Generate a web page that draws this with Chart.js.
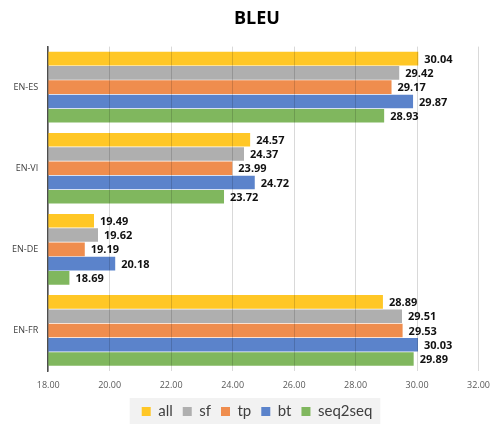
<!DOCTYPE html>
<html>
<head>
<meta charset="utf-8">
<script src="https://cdn.jsdelivr.net/npm/chart.js@4/dist/chart.umd.min.js"></script>
<style>
  html, body { margin: 0; padding: 0; background: #fff; }
  #wrap { width: 490px; height: 424px; }
</style>
</head>
<body>
<div id="wrap"><canvas id="bleuChart"></canvas></div>
<script>
const pairs = ['EN-ES', 'EN-VI', 'EN-DE', 'EN-FR'];
const allScores = [30.04, 24.57, 19.49, 28.89];
const sfScores = [29.42, 24.37, 19.62, 29.51];
const tpScores = [29.17, 23.99, 19.19, 29.53];
const btScores = [29.87, 24.72, 20.18, 30.03];
const seq2seqScores = [28.93, 23.72, 18.69, 29.89];
const axisMin = 18;
const axisMax = 32;
const axisStep = 2;

// shift title + legend a bit right, like the original (centered over plot, not canvas)
const shiftBlocks = {
  id: 'shiftBlocks',
  afterLayout(chart) {
    const dx = 11;
    const t = chart.titleBlock;
    if (t) { t.left += dx; t.right += dx; }
    const lg = chart.legend;
    if (lg) {
      lg.left += dx; lg.right += dx;
      lg.legendHitBoxes.forEach(b => { b.left += dx; });
    }
  }
};

// grey box behind legend
const legendBg = {
  id: 'legendBg',
  beforeDraw(chart) {
    const boxes = chart.legend && chart.legend.legendHitBoxes;
    if (!boxes || !boxes.length) return;
    const first = boxes[0];
    const last = boxes[boxes.length - 1];
    const ctx = chart.ctx;
    ctx.save();
    ctx.fillStyle = '#f2f2f2';
    ctx.fillRect(first.left - 12, first.top - 6, last.left + last.width - first.left + 20, chart.height - first.top + 6);
    ctx.restore();
  }
};

// value labels at the bar ends
const valueLabels = {
  id: 'valueLabels',
  afterDatasetsDraw(chart) {
    const ctx = chart.ctx;
    ctx.save();
    ctx.font = 'bold 11px "Open Sans"';
    ctx.fillStyle = '#111';
    ctx.textAlign = 'left';
    ctx.textBaseline = 'middle';
    chart.data.datasets.forEach((ds, i) => {
      const meta = chart.getDatasetMeta(i);
      meta.data.forEach((bar, j) => {
        ctx.fillText(ds.data[j].toFixed(2), bar.x + 6, bar.y + 1);
      });
    });
    ctx.restore();
  }
};

const ctx = document.getElementById('bleuChart').getContext('2d');
new Chart(ctx, {
  type: 'bar',
  data: {
    labels: pairs,
    datasets: [
      { label: 'all', data: allScores, backgroundColor: '#FFC726' },
      { label: 'sf', data: sfScores, backgroundColor: '#AFAFAF' },
      { label: 'tp', data: tpScores, backgroundColor: '#EF8D4E' },
      { label: 'bt', data: btScores, backgroundColor: '#5B83CB' },
      { label: 'seq2seq', data: seq2seqScores, backgroundColor: '#80B75E' },
    ]
  },
  options: {
    indexAxis: 'y',
    responsive: true,
    maintainAspectRatio: false,
    animation: false,
    categoryPercentage: 0.88,
    barPercentage: 0.95,
    layout: { padding: { left: 2, right: 0, top: 0, bottom: 0 } },
    scales: {
      x: {
        min: axisMin,
        max: axisMax,
        ticks: {
          stepSize: axisStep,
          color: '#595959',
          font: { family: '"Open Sans"', size: 9, lineHeight: 2 },
          padding: 0,
          callback: v => Number(v).toFixed(2)
        },
        grid: { color: 'rgba(0,0,0,0.15)', drawTicks: true, tickLength: 5, tickColor: 'rgba(0,0,0,0)', z: 1 },
        border: { display: false }
      },
      y: {
        ticks: {
          color: '#404040',
          font: { family: '"Open Sans"', size: 9 },
          padding: 10
        },
        grid: { display: false, drawTicks: false },
        border: { display: true, color: '#4d4d4d', width: 1.5 }
      }
    },
    plugins: {
      title: {
        display: true,
        text: 'BLEU',
        color: '#000',
        font: { family: '"Open Sans"', size: 18, weight: 'bold' },
        padding: { top: 8, bottom: 17 }
      },
      legend: {
        position: 'bottom',
        maxHeight: 30,
        labels: {
          boxWidth: 9,
          boxHeight: 9,
          padding: 10,
          color: '#404040',
          font: { family: 'Lato', size: 15 }
        }
      },
      tooltip: { enabled: false }
    }
  },
  plugins: [shiftBlocks, legendBg, valueLabels]
});
</script>
</body>
</html>
